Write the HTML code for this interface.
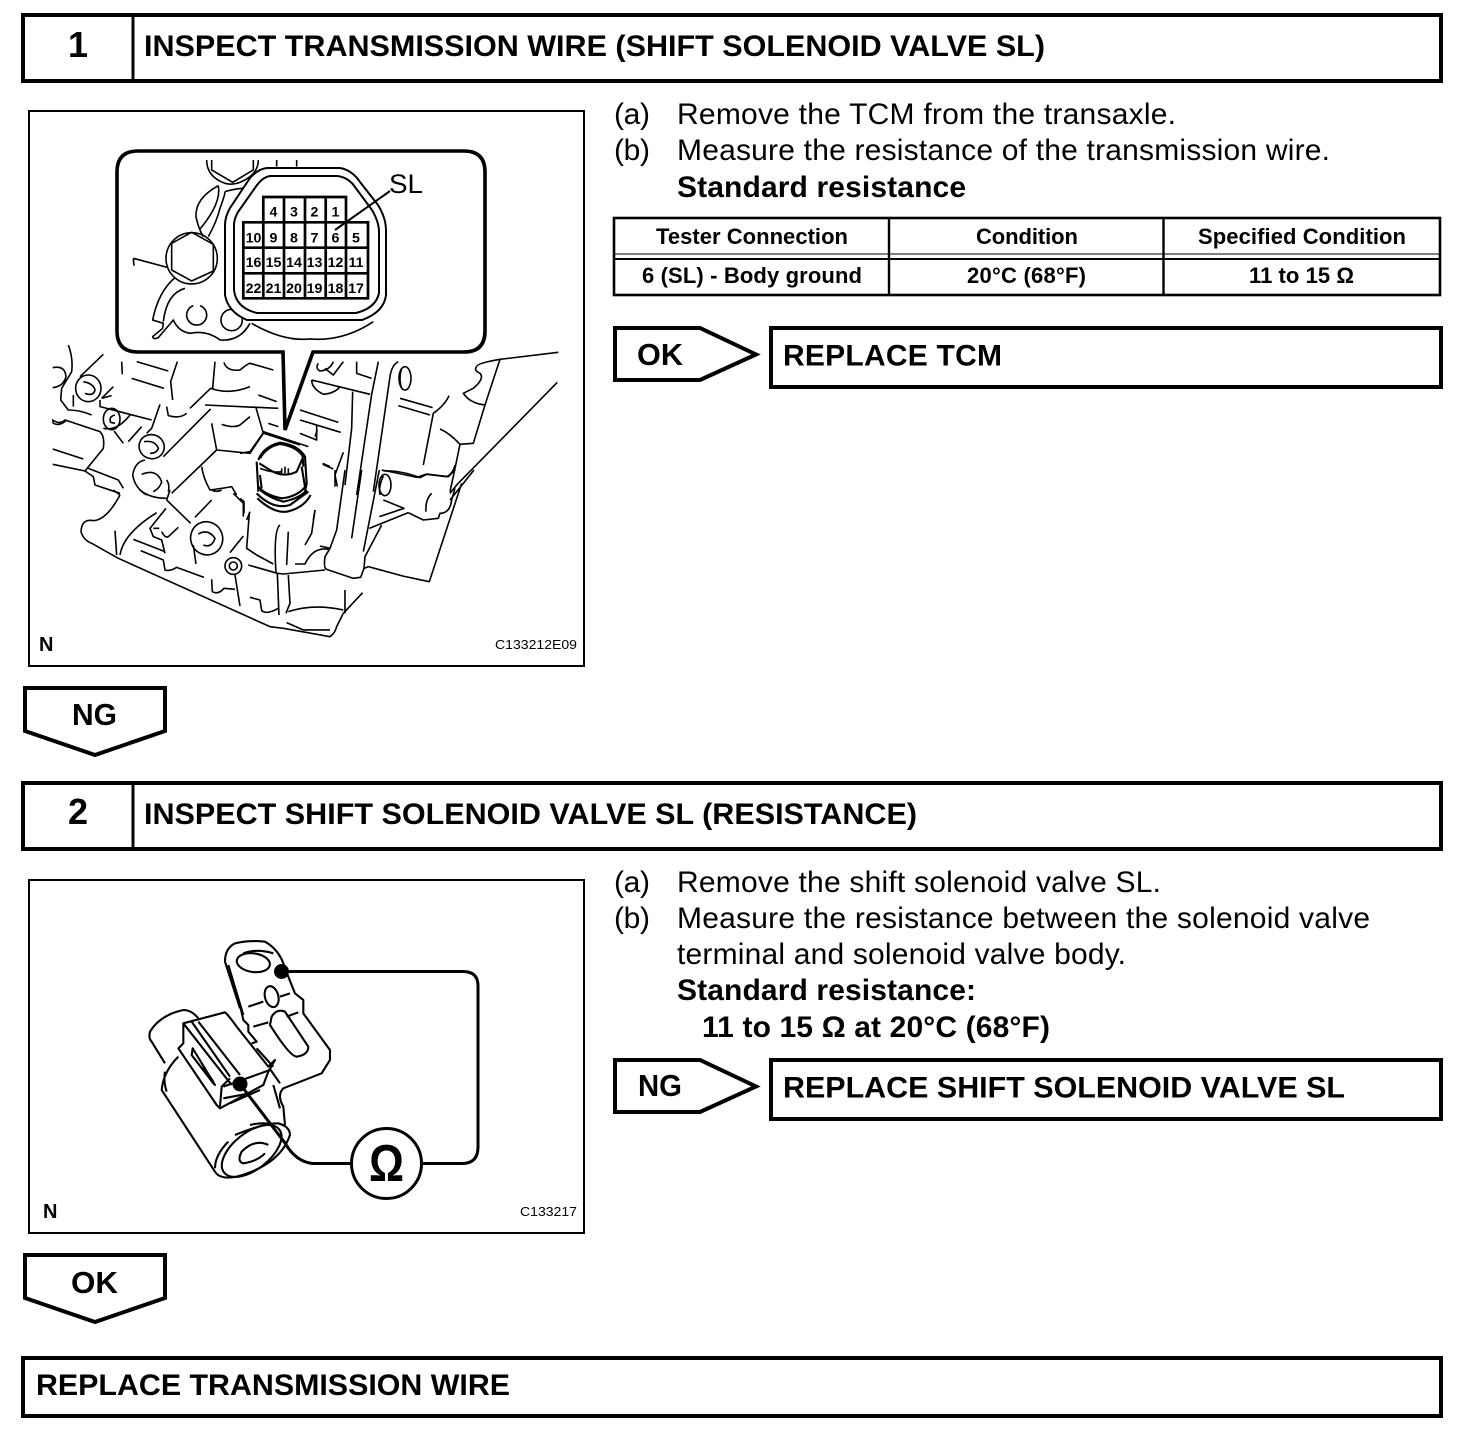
<!DOCTYPE html>
<html><head><meta charset="utf-8"><style>
html,body{margin:0;padding:0;background:#fff}
svg{display:block}
text{font-family:"Liberation Sans",sans-serif;fill:#000}
.b{font-weight:bold}
.t{font-size:30px;font-weight:bold}
.r{font-size:30px}
.th{font-size:22px;font-weight:bold;text-anchor:middle}
.n{font-size:14.2px;font-weight:bold;text-anchor:middle}
.box{fill:#fff;stroke:#000;stroke-width:4}
.art path,.art ellipse,.art circle,.art polygon{fill:none;stroke:#000;stroke-width:1.6;vector-effect:non-scaling-stroke;stroke-linejoin:round}
.hv path,.hv ellipse{stroke-width:2.1}
</style></head><body>
<svg xmlns="http://www.w3.org/2000/svg" width="1472" height="1448" viewBox="0 0 1472 1448">
<rect width="1472" height="1448" fill="#fff"/>

<!-- Step 1 header -->
<rect class="box" x="23" y="15" width="1418" height="66"/>
<path d="M133 15V81" stroke="#000" stroke-width="3"/>
<text class="b" x="78" y="57" font-size="36" text-anchor="middle">1</text>
<text class="t" x="144" y="56" textLength="901" lengthAdjust="spacingAndGlyphs">INSPECT TRANSMISSION WIRE (SHIFT SOLENOID VALVE SL)</text>

<rect x="29" y="111" width="555" height="555" fill="#fff" stroke="#000" stroke-width="2"/>

<!-- Engine: upper-left fragments -->
<g class="art" transform="translate(40,345) scale(.3333)">
<path d="M85 0Q100 40 95 80L65 130L62 165L85 195Q120 195 155 210M100 150V185M190 28L120 95M38 68Q75 60 78 95Q70 125 38 128"/>
<ellipse cx="145" cy="130" rx="38" ry="40"/>
<path d="M130 110Q160 115 165 135Q160 155 135 145M185 160L220 125M185 160L215 152M180 165V185L335 225"/>
<ellipse cx="215" cy="222" rx="25" ry="32"/>
<path d="M225 210Q205 215 212 232L225 235M190 250Q230 260 270 210M222 258L250 295M265 290L305 245M360 178L335 250L320 265"/>
<path d="M245 50L247 88M290 50L385 78M275 100L372 130M412 50L392 110L398 165M380 185L385 212Q420 222 440 205M450 190L512 130Q570 150 630 125M525 50L518 130M552 52Q560 80 600 75Q625 55 630 55L700 75"/>
<path d="M495 180L715 190M512 192L370 335M655 150L710 170M648 188L670 265L630 325Q580 320 530 315L395 445M530 315L515 235M545 238Q580 250 600 240L630 215M685 235L715 245M672 265L780 300"/>
<path d="M38 312L130 342M38 358L135 378M135 378L190 310Q195 275 180 260L75 225Q60 240 38 225L40 235Q60 245 80 225M135 378L160 395L165 420L240 445M145 370L235 405L250 430"/>
<ellipse cx="335" cy="305" rx="38" ry="36" transform="rotate(20 335 305)"/>
<path d="M312 290Q345 285 355 310Q350 325 330 325M315 345Q285 350 278 390Q285 430 320 450M305 388Q350 370 365 410Q360 430 340 440M380 405Q390 420 385 440M485 365Q490 400 510 435Q550 430 575 425L590 450"/>
</g>
<!-- Engine: upper-right fragments -->
<g class="art" transform="translate(300,345) scale(.3333)">
<path d="M530 65Q530 55 600 43L775 22M600 43L555 180L520 295L480 298M530 65Q520 75 540 85Q555 100 520 130L490 145Q510 175 555 180M772 112L470 420L450 445"/>
<path d="M235 50L215 148L170 450M295 50Q275 60 270 95L220 440M170 50V85L215 100M130 50L100 90L75 70M100 50Q90 75 60 78Q45 70 55 55M35 105L210 148M35 105Q35 130 70 148Q105 145 120 125M158 140L155 250L135 420"/>
<ellipse cx="315" cy="100" rx="18" ry="35"/>
<path d="M305 70Q295 100 305 130M300 160L398 188M295 182L390 210M447 152Q435 180 400 205L370 360M420 252Q450 265 480 298L462 385L450 440M250 378Q300 375 360 398L380 388L440 395Q460 385 465 360"/>
<path d="M0 195L115 232M0 225L122 262M0 265L50 285V240M68 358L100 372M130 322L105 390L112 425"/>
</g>
<!-- Engine: lower right -->
<g class="art" transform="translate(320,470) scale(.3333)">
<path d="M185 0Q260 15 290 22L320 12L385 20L405 0"/>
<ellipse cx="195" cy="45" rx="18" ry="32"/>
<path d="M190 18Q175 50 180 75M190 90L252 115L178 140M148 175L265 128M265 128L310 150L355 145L360 130Q390 130 395 90L405 55M335 70Q315 90 318 125M462 0L390 90"/>
<path d="M425 40L328 335L248 318L145 290L132 295L122 322L100 325L20 298Q10 295 15 260L30 235L0 228M30 235L50 180L75 0M125 0L95 205M178 0L130 245M185 165L135 260L132 295M45 0V50"/>
</g>
<!-- Engine: lower -->
<g class="art" transform="translate(70,490) scale(.3333)">
<path d="M33 125Q35 85 70 92Q110 90 150 15M33 125Q40 150 65 160L145 205L600 410L640 415L780 440Q795 430 800 410L820 370L878 308"/>
<path d="M135 122L140 195M150 195Q160 130 260 68M288 55L240 115L250 140L275 150L285 190M325 112L295 140Q285 145 275 125M250 115H268"/>
<path d="M190 148L285 185M212 182L280 210L285 240Q300 245 320 232L402 262M290 30L362 100"/>
<ellipse cx="410" cy="145" rx="48" ry="50" transform="rotate(-20 410 145)"/>
<path d="M385 132Q415 115 435 145Q425 175 400 165M425 30L375 82M520 138L480 188"/>
<circle cx="490" cy="228" r="25"/><circle cx="490" cy="228" r="12"/>
<path d="M370 165L378 222M495 255L510 348M425 268L427 305Q445 315 462 295L495 298M540 322L570 330L575 362Q590 375 625 355M622 248L627 375M655 255L660 340L648 370M535 225L622 250L640 252L765 240"/>
<path d="M538 70L530 175L560 195L610 222M630 105Q610 120 618 248M655 125L650 225M675 222H705Q730 170 775 178M735 60L725 130L705 165M825 300V370M650 398L700 420H780M655 365Q730 340 820 360"/>
<path d="M520 80V40L490 10M300 0L290 30M210 0Q240 25 290 25M130 0L150 15M425 0Q440 8 455 0"/>
</g>
<!-- Solenoid on case -->
<g class="art" transform="translate(240,430) scale(.3333)">
<path d="M70 5L205 50M232 0L225 20M0 70L30 65L70 8M248 100L270 110M0 205L12 215V250M20 270L30 245M225 240L220 270"/>
<g class="hv">
<path d="M55 90Q70 50 120 38Q175 45 195 80L200 160L195 185M50 95L55 185M60 85Q80 50 120 42Q170 50 188 78L190 110M58 100L90 120Q130 145 170 125L188 85M60 135L65 175M185 110L195 170"/>
<path d="M55 170Q75 195 125 205Q175 200 200 165M60 180Q90 205 130 215Q180 205 200 180M50 190Q100 240 150 225L205 185M52 205Q100 250 140 245Q190 235 212 195"/>
</g>
<path d="M60 115Q100 130 125 125M125 115V130M135 110V130M145 115V130"/>
</g>

<!-- Callout bubble -->
<path d="M138 151H464Q485 151 485 172V331Q485 352 464 352H313L285 430L283 352H138Q117 352 117 331V172Q117 151 138 151Z" fill="#fff" stroke="#000" stroke-width="3.6" stroke-linejoin="miter"/>
<g class="art" transform="translate(110,145) scale(.3333)">
<path d="M290 45Q290 95 345 115Q380 125 420 95Q445 75 445 45M305 45V75L368 112L430 75V45M500 45V65M560 45V65"/>
<path d="M325 122Q255 160 258 215Q265 250 280 275M325 122Q335 175 270 252M345 140Q345 150 330 190Q320 230 295 275M345 140Q380 130 400 130"/>
<ellipse cx="245" cy="340" rx="77" ry="77"/>
<polygon points="245,262 310,298 310,378 245,408 185,375 185,295"/>
<path d="M70 340L72 362M70 340L175 368M195 398Q145 440 128 525L160 535L158 550L128 575Q130 585 145 578L190 525Q205 560 240 565Q290 555 330 585Q390 590 420 535M225 430Q170 445 160 530M270 482A30 30 0 1 1 250 482"/>
<circle cx="365" cy="525" r="32"/>
<path d="M425 535Q520 590 600 582Q700 590 790 530"/>
</g>
<g fill="#fff" stroke="#000" stroke-width="2">
<path d="M267 168H340Q352 170 360 182L378 205Q386 218 386 230V295Q384 312 362 320H247Q228 312 225 295V225Q225 217 230 208L250 178Q258 169 267 168Z"/>
<path d="M270 176H337Q348 177 355 187L372 210Q379 222 379 232V293Q376 308 356 313H257Q236 308 234 290V225Q234 219 238 212L257 185Q263 177 270 176Z" fill="none"/>
</g>
<path d="M360 322Q340 338 310 339" fill="none"/>
<!-- Connector grid -->
<path d="M263.300 197H346V222.300H368V298.300H243.300V222.300H263.300ZM243.300 222.300H368M243.300 247.700H368M243.300 273.300H368M284 197V298.300M305 197V298.300M325.700 197V298.300M263.300 222.300V298.300M346 222.300V298.300" fill="none" stroke="#000" stroke-width="2.7"/>
<path d="M390 191L335 230" stroke="#000" stroke-width="2" fill="none"/>
<text x="389" y="193" font-size="27" textLength="34" lengthAdjust="spacingAndGlyphs">SL</text>
<text class="n" x="273.500" y="216.500">4</text><text class="n" x="294" y="216.500">3</text><text class="n" x="314.500" y="216.500">2</text><text class="n" x="335.500" y="216.500">1</text>
<text class="n" x="253.500" y="242.500">10</text><text class="n" x="273.500" y="242.500">9</text><text class="n" x="294" y="242.500">8</text><text class="n" x="314.500" y="242.500">7</text><text class="n" x="335.500" y="242.500">6</text><text class="n" x="356" y="242.500">5</text>
<text class="n" x="253.500" y="267">16</text><text class="n" x="273.500" y="267">15</text><text class="n" x="294" y="267">14</text><text class="n" x="314.500" y="267">13</text><text class="n" x="335.500" y="267">12</text><text class="n" x="356" y="267">11</text>
<text class="n" x="253.500" y="293">22</text><text class="n" x="273.500" y="293">21</text><text class="n" x="294" y="293">20</text><text class="n" x="314.500" y="293">19</text><text class="n" x="335.500" y="293">18</text><text class="n" x="356" y="293">17</text>
<text class="b" x="39" y="651" font-size="20">N</text>
<text x="495" y="649" font-size="13" textLength="82" lengthAdjust="spacingAndGlyphs">C133212E09</text>

<!-- Step 1 text -->
<text class="r" x="614" y="124" textLength="36">(a)</text>
<text class="r" x="677" y="124" textLength="499">Remove the TCM from the transaxle.</text>
<text class="r" x="614" y="160" textLength="36">(b)</text>
<text class="r" x="677" y="160" textLength="653">Measure the resistance of the transmission wire.</text>
<text class="t" x="677" y="197" textLength="289">Standard resistance</text>

<!-- Table -->
<g fill="none" stroke="#000">
<rect x="614" y="218" width="826" height="77" stroke-width="2.6"/>
<path d="M889 217V296M1163.500 217V296" stroke-width="2.4"/>
<path d="M614 254H1440" stroke-width="1"/><path d="M614 259H1440" stroke-width="2"/>
</g>
<text class="th" x="752" y="244" textLength="192">Tester Connection</text>
<text class="th" x="1027" y="244" textLength="102">Condition</text>
<text class="th" x="1302" y="244" textLength="208">Specified Condition</text>
<text class="th" x="752" y="283" textLength="220">6 (SL) - Body ground</text>
<text class="th" x="1026.500" y="283" textLength="119">20°C (68°F)</text>
<text class="th" x="1301.500" y="283" textLength="105">11 to 15 Ω</text>

<!-- OK arrow -->
<path d="M615 328H700L756 354.500L700 380H615Z" fill="#fff" stroke="#000" stroke-width="4"/>
<text class="b" x="637" y="365" font-size="31" textLength="46" lengthAdjust="spacingAndGlyphs">OK</text>
<rect class="box" x="771" y="328" width="670" height="59"/>
<text class="t" x="783" y="365.500" textLength="219">REPLACE TCM</text>

<!-- NG down -->
<path d="M25 688H165V731L95 755L25 731Z" fill="#fff" stroke="#000" stroke-width="4"/>
<text class="b" x="72" y="725" font-size="31" textLength="45" lengthAdjust="spacingAndGlyphs">NG</text>

<!-- Step 2 header -->
<rect class="box" x="23" y="783" width="1418" height="66"/>
<path d="M133 783V849" stroke="#000" stroke-width="3"/>
<text class="b" x="78" y="824" font-size="36" text-anchor="middle">2</text>
<text class="t" x="144" y="824" textLength="773" lengthAdjust="spacingAndGlyphs">INSPECT SHIFT SOLENOID VALVE SL (RESISTANCE)</text>

<rect x="29" y="880" width="555" height="353" fill="#fff" stroke="#000" stroke-width="2"/>

<!-- Solenoid -->
<g class="art hv" transform="translate(140,935) scale(.3333)">
<path d="M300 220L255 80Q255 40 285 25Q330 15 375 20Q420 45 435 100L465 175L490 195V235L570 345V375L545 415L430 460Q410 480 430 515L435 570"/>
<path d="M265 90L310 240M300 210L310 255L325 270V290L350 320L335 325M325 215L370 200M420 185L450 175M340 275L385 262M440 245L475 232"/>
<ellipse cx="340" cy="83" rx="50" ry="28" transform="rotate(8 340 83)"/>
<ellipse cx="395" cy="185" rx="20" ry="32" transform="rotate(-15 395 185)"/>
<path d="M395 245Q410 220 435 230L505 335Q505 360 470 365Q450 365 390 270ZM310 55Q350 40 400 55M350 340L400 395M385 395L420 445"/>
<path d="M175 250Q155 225 130 225Q60 240 30 290Q25 310 35 320L75 385M115 365Q70 410 65 465L225 710Q240 735 290 725Q420 690 450 600Q450 575 415 565Q370 565 285 600M75 410Q70 440 80 470"/>
<ellipse cx="335" cy="648" rx="105" ry="55" transform="rotate(-38 335 648)"/>
<path d="M385 630Q345 610 305 650Q290 680 310 685Q350 680 375 655M265 620Q225 660 225 700M330 570Q370 560 400 570M400 450L420 520"/>
<path d="M130 265L255 232Q265 240 290 275L385 395L405 375L385 410L370 450L240 520L230 510L115 340L130 325Z" style="fill:#fff"/>
<path d="M130 265L275 450M155 260L270 425M175 260L300 420M158 340L225 450L220 445L155 360ZM190 395L220 440M270 430L245 455L240 515M250 455L390 405M250 490L330 475M270 505L360 465"/>
</g>
<g fill="none" stroke="#000" stroke-width="3">
<path d="M281 971.500H463Q478 971.500 478 986V1147Q478 1163.500 462 1163.500H423"/>
<path d="M351 1163.500H313Q296 1162 285 1143L240 1084"/>
</g>
<circle cx="281.500" cy="971.500" r="7.500" fill="#000"/>
<circle cx="240" cy="1084" r="7.500" fill="#000"/>
<circle cx="386.500" cy="1163.500" r="35" fill="#fff" stroke="#000" stroke-width="3"/>
<text class="b" x="386.500" y="1181" font-size="52" text-anchor="middle" textLength="35" lengthAdjust="spacingAndGlyphs">Ω</text>
<text class="b" x="43" y="1218" font-size="20">N</text>
<text x="520" y="1216" font-size="13" textLength="57" lengthAdjust="spacingAndGlyphs">C133217</text>

<!-- Step 2 text -->
<text class="r" x="614" y="892" textLength="36">(a)</text>
<text class="r" x="677" y="892" textLength="484">Remove the shift solenoid valve SL.</text>
<text class="r" x="614" y="928" textLength="36">(b)</text>
<text class="r" x="677" y="928" textLength="693">Measure the resistance between the solenoid valve</text>
<text class="r" x="677" y="964" textLength="449">terminal and solenoid valve body.</text>
<text class="t" x="677" y="1000" textLength="299">Standard resistance:</text>
<text class="t" x="702" y="1037" textLength="348">11 to 15 Ω at 20°C (68°F)</text>

<!-- NG arrow -->
<path d="M615 1060H700L756 1086.500L700 1112H615Z" fill="#fff" stroke="#000" stroke-width="4"/>
<text class="b" x="638" y="1096" font-size="31" textLength="44" lengthAdjust="spacingAndGlyphs">NG</text>
<rect class="box" x="771" y="1060" width="670" height="59"/>
<text class="t" x="783" y="1097.500" textLength="562" lengthAdjust="spacingAndGlyphs">REPLACE SHIFT SOLENOID VALVE SL</text>

<!-- OK down -->
<path d="M25 1255H165V1298L95 1322L25 1298Z" fill="#fff" stroke="#000" stroke-width="4"/>
<text class="b" x="71" y="1293" font-size="31" textLength="47" lengthAdjust="spacingAndGlyphs">OK</text>

<!-- Final box -->
<rect class="box" x="23" y="1358" width="1418" height="58"/>
<text class="t" x="36" y="1395" textLength="474" lengthAdjust="spacingAndGlyphs">REPLACE TRANSMISSION WIRE</text>
</svg>
</body></html>
